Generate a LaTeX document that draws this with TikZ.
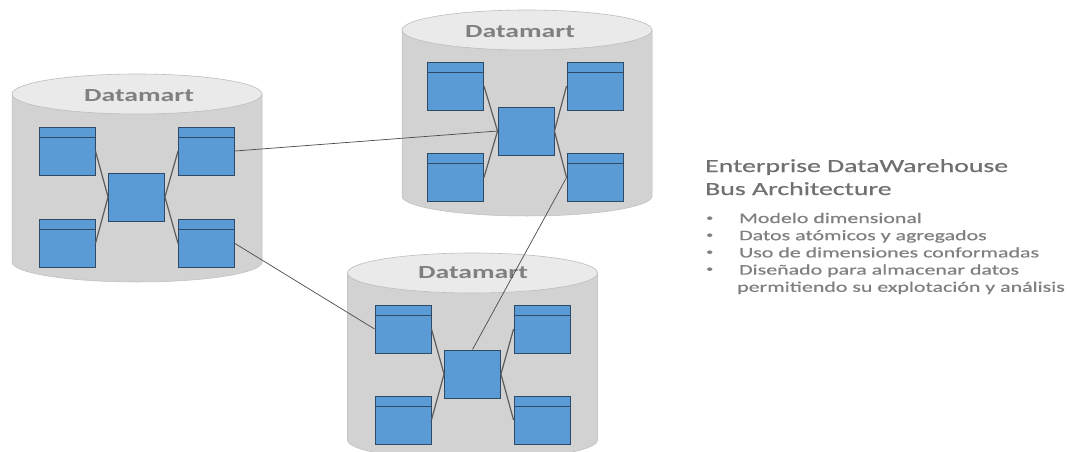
\documentclass[tikz,border=0pt]{standalone}
\usepackage{fontspec}
\setmainfont{Carlito}
\newfontfamily\widefont[FakeStretch=1.5]{Carlito}
\newfontfamily\widebold[FakeStretch=1.5,FakeBold=0.6]{Carlito}
\definecolor{boxblue}{HTML}{5B9BD5}
\definecolor{boxedge}{HTML}{2E4A66}
\definecolor{cylside}{HTML}{D2D2D2}
\definecolor{cylmid}{HTML}{E2E2E2}
\definecolor{cyltop}{HTML}{EAEAEA}
\definecolor{cylline}{HTML}{BDBDBD}
\definecolor{labelgray}{HTML}{808080}
\definecolor{headgray}{HTML}{707070}
\definecolor{linkgray}{HTML}{4A4A4A}
\tikzset{
  dimbox/.style={draw=boxedge, line width=0.9pt, fill=boxblue,
    minimum width=56pt, minimum height=48pt, inner sep=0pt,
    path picture={\draw[boxedge, line width=1pt]
      ([yshift=-10pt]path picture bounding box.north west) --
      ([yshift=-10pt]path picture bounding box.north east);}},
  factbox/.style={draw=boxedge, line width=0.9pt, fill=boxblue,
    minimum width=56pt, minimum height=48pt, inner sep=0pt},
  starlink/.style={draw=linkgray!90, line width=1.2pt},
  buslink/.style={draw=linkgray, line width=0.7pt},
  martlabel/.style={text=labelgray, font=\widefont\bfseries\fontsize{18.5}{22}\selectfont, inner sep=0pt},
  headtext/.style={text=headgray, font=\widebold\fontsize{18.5}{22}\selectfont, inner sep=0pt, anchor=base west},
  itemtext/.style={text=labelgray, font=\widebold\fontsize{14.6}{17}\selectfont, inner sep=0pt, anchor=base west},
  itemdot/.style={text=labelgray, font=\widefont\fontsize{10}{12}\selectfont, inner sep=0pt, anchor=base west},
}
% cylinder: centre x, top-ellipse y, bottom-ellipse y, half width, ellipse half height
\newcommand{\dbcylinder}[5]{%
  \path[left color=cylside, middle color=cylmid, right color=cylside, draw=cylline, line width=0.5pt]
    (#1-#4,#2) -- (#1-#4,#3)
    arc[start angle=180, end angle=0, x radius=#4, y radius=#5]
    -- (#1+#4,#2) -- cycle;
  \path[fill=cyltop, draw=cylline, line width=0.6pt]
    (#1,#2) ellipse [x radius=#4, y radius=#5];
}
\begin{document}
\begin{tikzpicture}[x=1pt, y=-1pt]
\useasboundingbox (0,0) rectangle (1070,452);
\fill[white] (0,0) rectangle (1070,452);

% three datamart cylinders
\dbcylinder{137}{94}{262}{125}{20}
\dbcylinder{527}{30}{196}{125}{20}
\dbcylinder{472.5}{273}{440}{125}{20}

\node[martlabel] (lblA) at (139,96) {Datamart};
\node[martlabel] (lblB) at (520,32) {Datamart};
\node[martlabel] (lblC) at (473,273) {Datamart};

% star schema of the left datamart
\node[dimbox]  (a1) at (67,151) {};
\node[dimbox]  (a2) at (206.5,151) {};
\node[factbox] (a0) at (136.5,197) {};
\node[dimbox]  (a3) at (67,243.5) {};
\node[dimbox]  (a4) at (206.5,243.5) {};

% star schema of the upper datamart
\node[dimbox]  (b1) at (455.5,86) {};
\node[dimbox]  (b2) at (595,86) {};
\node[factbox] (b0) at (526,131) {};
\node[dimbox]  (b3) at (455.5,177.5) {};
\node[dimbox]  (b4) at (595,177.5) {};

% star schema of the lower datamart
\node[dimbox]  (c1) at (403,329) {};
\node[dimbox]  (c2) at (542,329) {};
\node[factbox] (c0) at (472.5,374) {};
\node[dimbox]  (c3) at (403,420) {};
\node[dimbox]  (c4) at (542,420) {};

\foreach \m in {a,b,c}{
  \draw[starlink] (\m1.east) -- (\m0.west);
  \draw[starlink] (\m3.east) -- (\m0.west);
  \draw[starlink] (\m0.east) -- (\m2.west);
  \draw[starlink] (\m0.east) -- (\m4.west);
}

% conformed-dimension bus between datamarts
\draw[buslink] (a2.east) -- (b0.west);
\draw[buslink] (a4.east) -- (c1.west);
\draw[buslink] (b4.west) -- (c0.north);

% description
\node[headtext] (h1) at (705,172) {Enterprise DataWarehouse};
\node[headtext] (h2) at (705,195) {Bus Architecture};

\node[itemdot] (d1) at (706,221)   {•};
\node[itemdot] (d2) at (706,238.2) {•};
\node[itemdot] (d3) at (706,255.4) {•};
\node[itemdot] (d4) at (706,272.6) {•};
\node[itemtext] (t1) at (739,223)   {Modelo dimensional};
\node[itemtext] (t2) at (739,240.2) {Datos atómicos y agregados};
\node[itemtext] (t3) at (739,257.4) {Uso de dimensiones conformadas};
\node[itemtext] (t4) at (739,274.6) {Diseñado para almacenar datos};
\node[itemtext] (t5) at (737,291.8) {permitiendo su explotación y análisis};
\end{tikzpicture}
\end{document}
